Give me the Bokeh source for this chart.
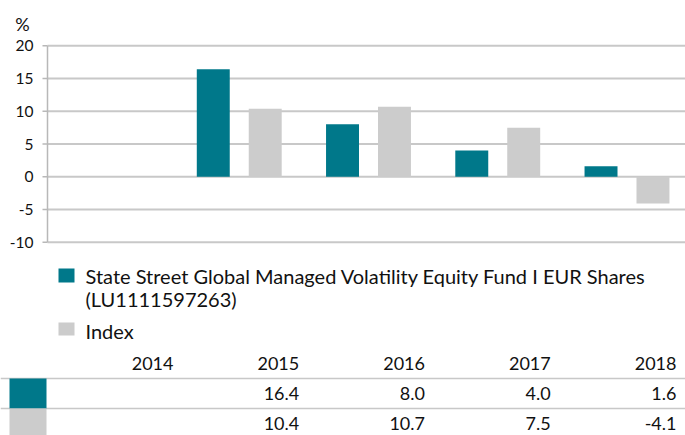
from bokeh.plotting import figure
from bokeh.models import Range1d
from bokeh.embed import file_html
from bokeh.resources import INLINE
from bokeh.core.properties import value

# ---------------- data ----------------
years = ["2014", "2015", "2016", "2017", "2018"]
fund = [None, 16.4, 8.0, 4.0, 1.6]
index_vals = [None, 10.4, 10.7, 7.5, -4.1]
fund_name = "State Street Global Managed Volatility Equity Fund I EUR Shares"
fund_code = "(LU1111597263)"
index_name = "Index"
y_ticks = [-10, -5, 0, 5, 10, 15, 20]
y_unit = "%"

TEAL = "#00788a"
GREY = "#cccccc"
GRID = "#c8c8c8"
AXIS = "#b8b8b8"
TXT = "#111111"
FONT = "Lato"

W, H = 685, 435

# chart scale: category units on x, percent on y (frame = whole canvas)
CX_PPU = 129.25          # px per category
CX_2014 = 109.5          # px centre of first category
VY_PPU = 6.547           # px per percent
VY_20 = 45.3             # px of the 20 % line
x_start = -CX_2014 / CX_PPU
x_end = x_start + W / CX_PPU
y_top = 20 + VY_20 / VY_PPU
y_bot = 20 - (H - VY_20) / VY_PPU

p = figure(width=W, height=H, output_backend="svg", toolbar_location=None,
           x_axis_type=None, y_axis_type=None,
           x_range=Range1d(x_start, x_end), y_range=Range1d(y_bot, y_top),
           min_border=0)
p.outline_line_color = None
p.grid.visible = False

# table scales
TX_PPU = 125.75
TX_FIRST = 173.0        # px right edge of first table column
ROW_PPU = 30.0
ROW0 = 363.0            # px centre of header row
p.extra_x_ranges = {"tab": Range1d(-TX_FIRST / TX_PPU, -TX_FIRST / TX_PPU + W / TX_PPU)}
p.extra_y_ranges = {"row": Range1d((H - ROW0) / ROW_PPU, -ROW0 / ROW_PPU)}

def tx(px):
    return (px - TX_FIRST) / TX_PPU

def ry(px):
    return (px - ROW0) / ROW_PPU

AX = (47 - CX_2014) / CX_PPU   # axis position in category units
y_min, y_max = min(y_ticks), max(y_ticks)

# gridlines
p.segment(x0=[AX] * len(y_ticks), x1=[x_end] * len(y_ticks), y0=y_ticks, y1=y_ticks,
          line_color=GRID, line_width=2)
# axis line and ticks
p.segment(x0=[AX], x1=[AX], y0=[y_min], y1=[y_max], line_color=AXIS, line_width=1.5)
p.segment(x0=[AX - 5 / CX_PPU] * len(y_ticks), x1=[AX] * len(y_ticks), y0=y_ticks, y1=y_ticks,
          line_color=AXIS, line_width=1.5)
p.text(x=[AX] * len(y_ticks), y=y_ticks, text=[str(t) for t in y_ticks], x_offset=-14,
       text_font=value(FONT), text_font_size="15.5px", text_color=TXT,
       text_align="right", text_baseline="middle")
p.text(x=[(22 - CX_2014) / CX_PPU], y=[20 + (VY_20 - 23) / VY_PPU], text=[y_unit],
       text_font=value(FONT), text_font_size="18px", text_color=TXT,
       text_align="center", text_baseline="middle")

# bars
xs = list(range(len(years)))
f_x = [i - 0.201 for i, v in zip(xs, fund) if v is not None]
f_v = [v for v in fund if v is not None]
i_x = [i + 0.201 for i, v in zip(xs, index_vals) if v is not None]
i_v = [v for v in index_vals if v is not None]
p.vbar(x=f_x, top=f_v, bottom=0, width=0.255, color=TEAL, line_color=None)
p.vbar(x=i_x, top=i_v, bottom=0, width=0.255, color=GREY, line_color=None)

# legend
p.rect(x=[tx(66), tx(66)], y=[ry(275), ry(328.5)], width=16 / TX_PPU,
       height=[14 / ROW_PPU, 13 / ROW_PPU], color=[TEAL, GREY], line_color=None,
       x_range_name="tab", y_range_name="row")
p.text(x=[tx(85)] * 3, y=[ry(275), ry(298), ry(330)], text=[fund_name, fund_code, index_name],
       text_font=value(FONT), text_font_size="20px", text_color=TXT,
       text_baseline="middle", text_align="left", x_range_name="tab", y_range_name="row")

# table lines and swatches
p.segment(x0=[tx(0)] * 2, x1=[tx(W)] * 2, y0=[0.5, 1.5], y1=[0.5, 1.5],
          line_color=GRID, line_width=1.5, x_range_name="tab", y_range_name="row")
p.rect(x=[tx(27.5)] * 2, y=[1, 2], width=37 / TX_PPU, height=1.0, color=[TEAL, GREY],
       line_color=None, x_range_name="tab", y_range_name="row")

def fmt(v):
    return "" if v is None else f"{v:.1f}"

for r, labels in enumerate([years, [fmt(v) for v in fund], [fmt(v) for v in index_vals]]):
    p.text(x=xs, y=[r] * len(labels), text=labels, text_font=value(FONT),
           text_font_size="18px", text_color=TXT, text_align="right",
           text_baseline="middle", x_range_name="tab", y_range_name="row")

open("out.html", "w").write(file_html(p, INLINE))
